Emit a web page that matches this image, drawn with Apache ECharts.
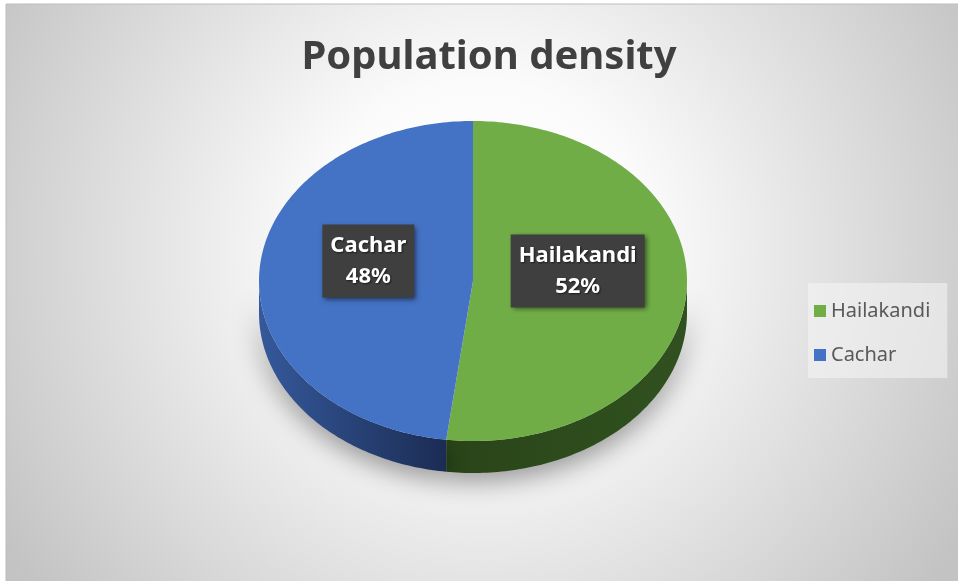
<!DOCTYPE html>
<html>
<head>
<meta charset="utf-8">
<script src="https://cdn.jsdelivr.net/npm/echarts@6/dist/echarts.min.js"></script>
<style>
  html, body { margin: 0; padding: 0; background: #fff; }
  #chart-container { width: 958px; height: 581px; }
</style>
</head>
<body>
<div id="chart-container"></div>
<script>
var categories = ['Hailakandi', 'Cachar'];
var values = [52, 48];
var topColors = ['#70ad47', '#4472c4'];
var sideColors = [['#2a4519', '#30511f'], ['#35599b', '#1b2c54']];

var total = values.reduce(function (a, b) { return a + b; }, 0);

// pie geometry (tilted ellipse)
var cx = 473, cy = 281, rx = 214, ry = 160, depth = 32;

function pt(deg, dy) {
    var r = deg * Math.PI / 180;
    return [cx + rx * Math.cos(r), cy - ry * Math.sin(r) + (dy || 0)];
}

function arcPoints(from, to, dy) {
    var pts = [];
    var n = Math.max(2, Math.ceil(Math.abs(to - from)));
    for (var i = 0; i <= n; i++) {
        pts.push(pt(from + (to - from) * i / n, dy));
    }
    return pts;
}

function sliceAngles(idx) {
    var start = 90;
    for (var i = 0; i < idx; i++) start -= 360 * values[i] / total;
    return [start, start - 360 * values[idx] / total];
}

function renderSlice(params, api) {
    var idx = params.seriesIndex;
    var a = sliceAngles(idx);
    var a0 = a[0], a1 = a[1];
    var children = [];

    // front side wall: part of [a1, a0] inside [-180, 0]
    var lo = Math.max(a1, -180), hi = Math.min(a0, 0);
    if (hi > lo) {
        var topEdge = arcPoints(hi, lo, 0);
        var botEdge = arcPoints(lo, hi, depth);
        var p0 = pt(hi), p1 = pt(lo);
        children.push({
            type: 'polygon',
            z2: 1,
            shape: { points: topEdge.concat(botEdge) },
            style: {
                fill: new echarts.graphic.LinearGradient(
                    Math.min(p0[0], p1[0]), 0, Math.max(p0[0], p1[0]), 0,
                    [{ offset: 0, color: sideColors[idx][0] }, { offset: 1, color: sideColors[idx][1] }],
                    true
                ),
                shadowBlur: 26,
                shadowColor: 'rgba(0,0,0,0.4)',
                shadowOffsetY: 8
            }
        });
    }

    // top face
    children.push({
        type: 'polygon',
        z2: 10,
        shape: { points: [[cx, cy]].concat(arcPoints(a0, a1, 0)) },
        style: { fill: topColors[idx] }
    });

    // data label
    var mid = (a0 + a1) / 2;
    var lp = [cx + 0.49 * rx * Math.cos(mid * Math.PI / 180),
              cy - 0.49 * ry * Math.sin(mid * Math.PI / 180) - 15];
    children.push({
        type: 'text',
        z2: 20,
        x: lp[0],
        y: lp[1],
        style: {
            text: categories[idx] + '\n' + Math.round(api.value(0) / total * 100) + '%',
            fill: '#ffffff',
            font: 'bold 22px "Noto Sans"',
            lineHeight: 31,
            align: 'center',
            verticalAlign: 'middle',
            backgroundColor: '#3f3f3f',
            padding: [6, 8, 5, 8],
            shadowColor: 'rgba(0,0,0,0.55)',
            shadowBlur: 5,
            shadowOffsetX: 2,
            shadowOffsetY: 2,
            textShadowColor: 'rgba(0,0,0,0.6)',
            textShadowBlur: 2,
            textShadowOffsetX: 1,
            textShadowOffsetY: 1
        }
    });

    return { type: 'group', children: children };
}

var dom = document.getElementById('chart-container');
var myChart = echarts.init(dom, null, { renderer: 'canvas' });

var option = {
    animation: false,
    graphic: [
        {
            type: 'rect',
            z: -10,
            shape: { x: 6, y: 4, width: 960, height: 590 },
            style: {
                fill: new echarts.graphic.RadialGradient(480, 250, 560, [
                    { offset: 0, color: '#ffffff' },
                    { offset: 0.3, color: '#fbfbfb' },
                    { offset: 1, color: '#c3c3c3' }
                ], true),
                stroke: '#bdbdbd',
                lineWidth: 1
            }
        }
    ],
    title: {
        text: 'Population density',
        left: 484,
        top: 33,
        textAlign: 'center',
        textStyle: {
            fontFamily: 'Noto Sans',
            fontWeight: 'bold',
            fontSize: 40,
            color: '#404040'
        }
    },
    legend: {
        orient: 'vertical',
        left: 808,
        top: 283,
        padding: [18, 17, 13, 6],
        backgroundColor: 'rgba(245,245,245,0.55)',
        icon: 'rect',
        itemWidth: 12,
        itemHeight: 12,
        itemGap: 24,
        data: categories,
        textStyle: {
            fontFamily: 'Noto Sans',
            fontSize: 20,
            lineHeight: 20,
            color: '#595959'
        }
    },
    series: categories.map(function (name, i) {
        return {
            name: name,
            type: 'custom',
            coordinateSystem: 'none',
            itemStyle: { color: topColors[i] },
            renderItem: renderSlice,
            data: [values[i]]
        };
    })
};

myChart.setOption(option);
window.addEventListener('resize', myChart.resize);
</script>
</body>
</html>
